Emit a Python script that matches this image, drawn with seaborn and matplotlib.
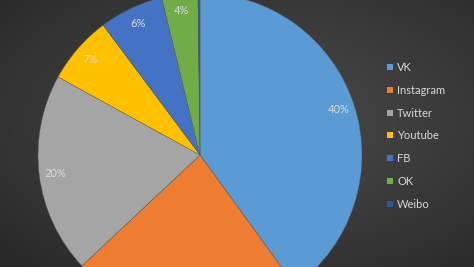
import numpy as np
import matplotlib
matplotlib.use("Agg")
import matplotlib.pyplot as plt
from matplotlib.lines import Line2D
import seaborn as sns

# ---- data ----
categories = ["VK", "Instagram", "Twitter", "Youtube", "FB", "OK", "Weibo"]
shares = [40, 23, 20, 6.8, 6.4, 3.6, 0.2]
colors = ["#5B9BD5", "#ED7D31", "#A5A5A5", "#FFC000", "#4472C4", "#70AD47", "#255E91"]

sns.set_theme(style="dark")
plt.rcParams["font.family"] = ["Lato", "DejaVu Sans"]

W, H = 474, 267
fig = plt.figure(figsize=(W / 100, H / 100), dpi=100)

# background radial gradient
bg = fig.add_axes([0, 0, 1, 1])
yy, xx = np.mgrid[0:H, 0:W]
r = np.sqrt(((xx - W * 0.55) / W) ** 2 + ((yy - H * 0.45) / H) ** 2)
r = r / r.max()
val = (0x48 - (0x48 - 0x27) * r ** 1.3) / 255.0
img = np.dstack([val, val, val])
bg.imshow(img, aspect="auto", extent=[0, 1, 0, 1], origin="upper")
bg.set_axis_off()

# pie axes: center (200,155) px from top-left, radius 162 px
cx, cy, R = 200, 155, 162
ax = fig.add_axes([(cx - R) / W, (H - cy - R) / H, 2 * R / W, 2 * R / H])
ax.set_facecolor("none")
wedges, texts, autotexts = ax.pie(
    shares,
    colors=colors,
    startangle=90,
    counterclock=False,
    radius=1.0,
    autopct=lambda p: f"{p:.0f}%" if p >= 1 else "",
    pctdistance=0.9,
    wedgeprops=dict(linewidth=0.3, edgecolor="#5a5a5a"),
    textprops=dict(color="#d9d9d9", fontsize=8),
)
ax.set_xlim(-1, 1)
ax.set_ylim(-1, 1)
ax.set_axis_off()

# labels that fall outside the visible picture are not shown (as in the original)
fig.canvas.draw()
for t in autotexts:
    bb = t.get_window_extent()
    if bb.y0 < 0 or bb.y1 > H:
        t.set_visible(False)

handles = [Line2D([0], [0], marker="s", linestyle="none", markersize=4.5,
                  markerfacecolor=c, markeredgewidth=0) for c in colors]
leg = fig.legend(handles, categories, loc="upper left",
                 bbox_to_anchor=(387 / W, 1 - 62 / H), frameon=False,
                 fontsize=8, labelcolor="#d9d9d9", handlelength=0.6,
                 handletextpad=0.3, labelspacing=1.06, borderpad=0, borderaxespad=0)

fig.savefig("out.png", dpi=100, facecolor="#333333")
